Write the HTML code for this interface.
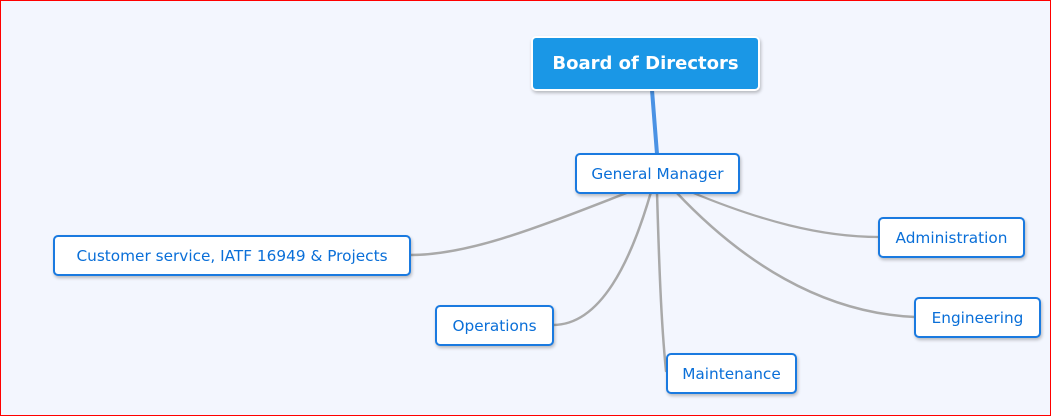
<!DOCTYPE html>
<html><head><style>
body{margin:0;width:1051px;height:416px;overflow:hidden;}
.wrap{position:relative;width:1049px;height:414px;border:1px solid #f00;background:#f3f6fe;font-family:"DejaVu Sans","Liberation Sans",sans-serif;}
.n{position:absolute;box-sizing:border-box;background:#fff;border:2px solid #1a7ae0;border-radius:5px;color:#0a6fd8;font-size:15.3px;display:flex;align-items:center;justify-content:center;box-shadow:1px 2px 3px rgba(0,0,0,.25);white-space:nowrap;}
svg{position:absolute;left:0;top:0;}
</style></head><body><div class="wrap">
<svg width="1051" height="416" fill="none" stroke-linecap="round">
<path d="M651 89 L656 153" stroke="#4a92e4" stroke-width="4"/>
<g stroke="#a9a9a9">
<path d="M628 191 C540 225 470 254 409 254" stroke-width="2.5"/>
<path d="M650 191 C630 260 600 324 552 324" stroke-width="2.5"/>
<path d="M656 191 C658 260 660 320 665 370" stroke-width="2.5"/>
<path d="M690 191 C760 220 820 236 878 236" stroke-width="2.2"/>
<path d="M675 191 C740 260 820 312 914 316" stroke-width="2.5"/>
</g>
</svg>
<div class="n" style="left:530px;top:35px;width:229px;height:55px;background:#1a97e6;border:2px solid #fff;color:#fff;font-weight:bold;font-size:18px;">Board of Directors</div>
<div class="n" style="left:574px;top:152px;width:165px;height:41px;">General Manager</div>
<div class="n" style="left:52px;top:234px;width:358px;height:41px;">Customer service, IATF 16949 &amp; Projects</div>
<div class="n" style="left:434px;top:304px;width:119px;height:41px;">Operations</div>
<div class="n" style="left:665px;top:352px;width:131px;height:41px;">Maintenance</div>
<div class="n" style="left:877px;top:216px;width:147px;height:41px;">Administration</div>
<div class="n" style="left:913px;top:296px;width:127px;height:41px;">Engineering</div>
</div></body></html>
